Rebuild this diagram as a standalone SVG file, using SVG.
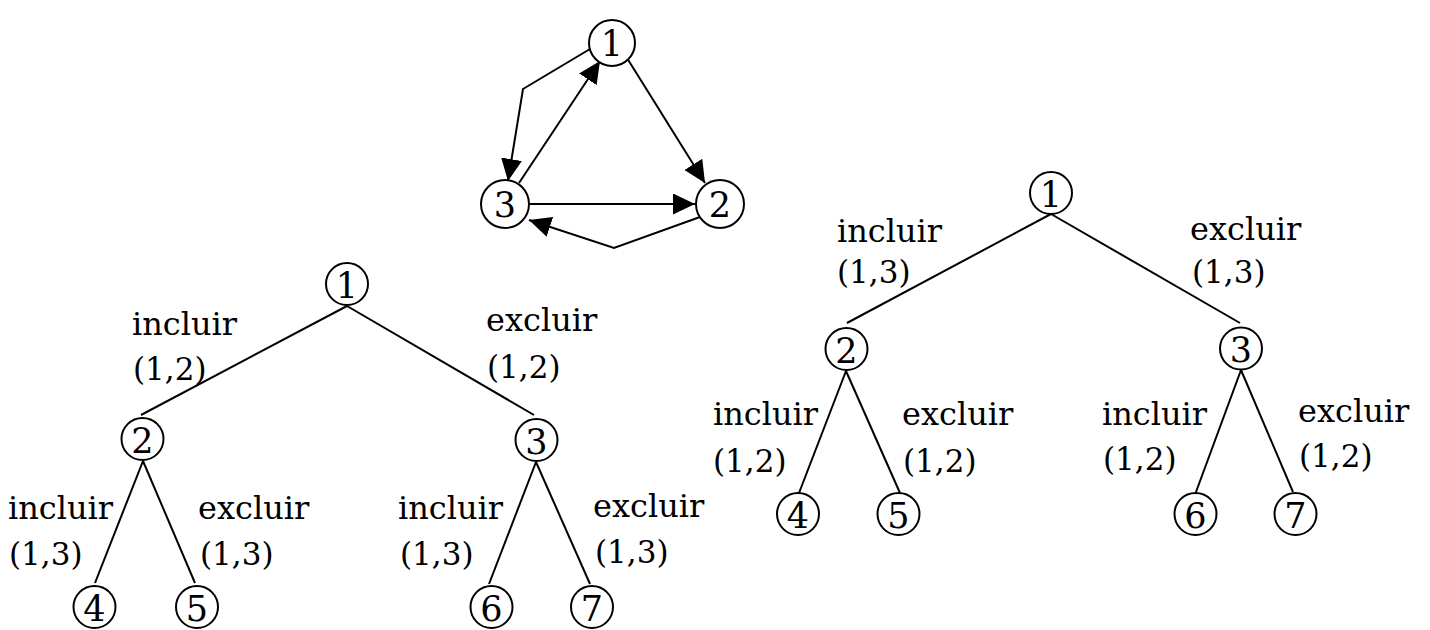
<svg xmlns="http://www.w3.org/2000/svg" width="1430" height="630" viewBox="0 0 1430 630">
<style>
  .bg{fill:#fff}
  .node circle{fill:#fff;stroke:#000;stroke-width:2}
  .tn circle{fill:#fff;stroke:#000;stroke-width:2}
  .node text,.tn text{font-family:'DejaVu Serif','Liberation Serif',serif;font-size:35px;text-anchor:middle;fill:#000}
  .edge{fill:none;stroke:#000;stroke-width:2}
  .arr{marker-end:url(#ah)}
  .w{font-family:'DejaVu Serif','Liberation Serif',serif;font-size:32px;fill:#000}
  .p{font-family:'DejaVu Serif','Liberation Serif',serif;font-size:31px;fill:#000}
</style>
<defs>
  <marker id="ah" markerUnits="userSpaceOnUse" markerWidth="24" markerHeight="22" refX="22" refY="10.5" orient="auto">
    <path d="M0,0 L22,10.5 L0,21 z" fill="#000"/>
  </marker>
</defs>
<rect class="bg" x="0" y="0" width="1430" height="630"/>

<!-- connectors -->
<g id="connectors">
  <!-- top graph -->
  <line class="edge arr" x1="627" y1="58" x2="705" y2="183"/>
  <line class="edge arr" x1="519" y1="183" x2="600" y2="61"/>
  <polyline class="edge arr" points="590,49 523,89 508,181"/>
  <line class="edge arr" x1="529" y1="204" x2="695" y2="204"/>
  <polyline class="edge arr" points="700,217 614,248 529,220"/>
  <!-- left tree -->
  <line class="edge" x1="347" y1="306" x2="141" y2="415"/>
  <line class="edge" x1="347" y1="306" x2="534" y2="415"/>
  <line class="edge" x1="143" y1="461" x2="95" y2="583"/>
  <line class="edge" x1="143" y1="461" x2="195" y2="583"/>
  <line class="edge" x1="536" y1="462" x2="489" y2="584"/>
  <line class="edge" x1="536" y1="462" x2="590" y2="584"/>
  <!-- right tree -->
  <line class="edge" x1="1051" y1="214" x2="847" y2="323"/>
  <line class="edge" x1="1051" y1="214" x2="1240" y2="323"/>
  <line class="edge" x1="846" y1="371" x2="799" y2="493"/>
  <line class="edge" x1="846" y1="371" x2="900" y2="493"/>
  <line class="edge" x1="1241" y1="370" x2="1196" y2="492"/>
  <line class="edge" x1="1241" y1="370" x2="1293" y2="492"/>
</g>

<!-- top graph nodes -->
<g id="g1" class="node"><circle cx="612" cy="43" r="23"/><text x="612" y="56">1</text></g>
<g id="g2" class="node"><circle cx="720" cy="204" r="24"/><text x="720" y="217">2</text></g>
<g id="g3" class="node"><circle cx="505" cy="204" r="24"/><text x="505" y="217">3</text></g>

<!-- left tree nodes -->
<g id="L1" class="tn"><circle cx="347" cy="284" r="21"/><text x="347" y="297.5">1</text></g>
<g id="L2" class="tn"><circle cx="142.5" cy="439" r="21"/><text x="142.5" y="452.5">2</text></g>
<g id="L3" class="tn"><circle cx="536.5" cy="440" r="21"/><text x="536.5" y="453.5">3</text></g>
<g id="L4" class="tn"><circle cx="94.5" cy="607" r="21"/><text x="94.5" y="620.5">4</text></g>
<g id="L5" class="tn"><circle cx="197" cy="607" r="21"/><text x="197" y="620.5">5</text></g>
<g id="L6" class="tn"><circle cx="491.5" cy="607" r="21"/><text x="491.5" y="620.5">6</text></g>
<g id="L7" class="tn"><circle cx="592" cy="607" r="21"/><text x="592" y="620.5">7</text></g>

<!-- right tree nodes -->
<g id="R1" class="tn"><circle cx="1051" cy="193" r="21"/><text x="1051" y="206.5">1</text></g>
<g id="R2" class="tn"><circle cx="846.5" cy="349" r="21"/><text x="846.5" y="362.5">2</text></g>
<g id="R3" class="tn"><circle cx="1241" cy="348.5" r="21"/><text x="1241" y="362">3</text></g>
<g id="R4" class="tn"><circle cx="798" cy="514" r="21"/><text x="798" y="527.5">4</text></g>
<g id="R5" class="tn"><circle cx="898.5" cy="514" r="21"/><text x="898.5" y="527.5">5</text></g>
<g id="R6" class="tn"><circle cx="1195.5" cy="514" r="21"/><text x="1195.5" y="527.5">6</text></g>
<g id="R7" class="tn"><circle cx="1295.5" cy="514" r="21"/><text x="1295.5" y="527.5">7</text></g>

<!-- edge labels -->
<g id="labels">
  <text class="w" x="132" y="335">incluir</text><text class="p" x="133" y="380">(1,2)</text>
  <text class="w" x="486" y="331">excluir</text><text class="p" x="487" y="378">(1,2)</text>
  <text class="w" x="8" y="519">incluir</text><text class="p" x="9" y="565">(1,3)</text>
  <text class="w" x="198" y="519">excluir</text><text class="p" x="200" y="565">(1,3)</text>
  <text class="w" x="398" y="519">incluir</text><text class="p" x="400" y="565">(1,3)</text>
  <text class="w" x="593" y="517">excluir</text><text class="p" x="595" y="563">(1,3)</text>

  <text class="w" x="837" y="242">incluir</text><text class="p" x="837" y="283">(1,3)</text>
  <text class="w" x="1190" y="240">excluir</text><text class="p" x="1192" y="283">(1,3)</text>
  <text class="w" x="713" y="425">incluir</text><text class="p" x="713" y="472">(1,2)</text>
  <text class="w" x="902" y="425">excluir</text><text class="p" x="903" y="472">(1,2)</text>
  <text class="w" x="1102" y="425">incluir</text><text class="p" x="1103" y="470">(1,2)</text>
  <text class="w" x="1298" y="422">excluir</text><text class="p" x="1299" y="467">(1,2)</text>
</g>
</svg>
